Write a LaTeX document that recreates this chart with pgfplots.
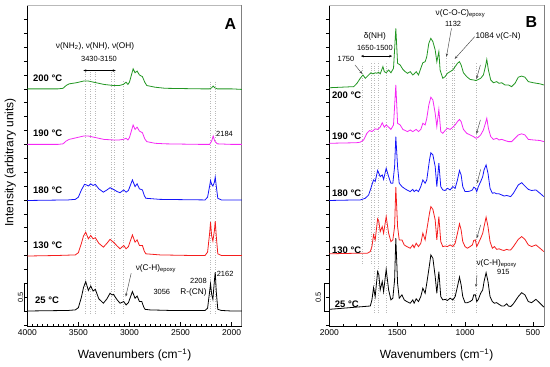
\documentclass[border=0pt]{standalone}
\usepackage{pgfplots}
\pgfplotsset{compat=1.18}
\usepackage{fontspec}
\setmainfont{Liberation Sans}
\usetikzlibrary{arrows.meta}
\definecolor{specgreen}{RGB}{34,150,34}
\definecolor{specmag}{RGB}{245,40,245}
\definecolor{specblue}{RGB}{20,20,250}
\definecolor{specred}{RGB}{245,30,30}
\definecolor{annot}{RGB}{70,70,70}
\tikzset{
  tlab/.style={font=\fontsize{9.5}{10}\selectfont\bfseries, anchor=west, inner sep=0pt},
  ann/.style={font=\fontsize{7.5}{9}\selectfont, inner sep=0pt},
  tann/.style={font=\fontsize{8.3}{9}\selectfont, inner sep=0pt},
  dl/.style={gray!55, dotted, line width=0.45bp},
  arr/.style={-{Stealth[length=3.2bp,width=2.4bp]}, annot, line width=0.45bp},
}
\begin{document}
\begin{tikzpicture}[x=1bp,y=1bp]
\pgfplotsset{
  specaxis/.style={
    scale only axis, width=214.5bp, height=321bp,
    x dir=reverse,
    axis x line*=bottom, axis y line*=left,
    axis line style={-, line width=0.7bp},
    ymin=-0.27, ymax=5.51,
    ytick={-0.25,0,...,5.25}, yticklabels={},
    tick align=inside, major tick length=3.5bp, minor tick length=2bp,
    tick style={black, line width=0.5bp},
    ytick style={xshift=-3.5bp},
    xticklabel style={font=\fontsize{8.5}{10}\selectfont},
    /pgf/number format/assume math mode=true,
    /pgf/number format/1000 sep={},
    xlabel={Wavenumbers (cm\textsuperscript{−1})},
    every axis x label/.style={at={(axis description cs:0.5,0)}, anchor=center, yshift=-29bp, font=\fontsize{12}{14}\selectfont},
    clip=false,
    every axis plot/.append style={line width=0.8bp, mark=none},
  },
}
% ================= Panel A =================
\begin{axis}[specaxis, at={(27.3bp,41bp)}, anchor=south west,
  xmin=1900, xmax=4000, xtick={2000,2500,3000,3500,4000}, minor x tick num=9,
  ylabel={Intensity (arbitrary units)},
  every axis y label/.style={at={(axis description cs:-0.079,0.51)}, anchor=center, rotate=90, font=\fontsize{12}{14}\selectfont}]
\draw[gray!55, line width=0.5bp] (axis description cs:0,1) -- (axis description cs:1,1);
\draw[gray, line width=0.6bp] (axis description cs:1,1) -- (axis description cs:1,0);
% dotted guide lines
\draw[dl] (axis cs:3428,-0.05) -- (axis cs:3428,4.32);
\draw[dl] (axis cs:3386,-0.05) -- (axis cs:3386,4.32);
\draw[dl] (axis cs:3337,-0.05) -- (axis cs:3337,4.32);
\draw[dl] (axis cs:3180,-0.05) -- (axis cs:3180,4.32);
\draw[dl] (axis cs:3152,-0.05) -- (axis cs:3152,4.32);
\draw[dl] (axis cs:3056,-0.05) -- (axis cs:3056,4.16);
\draw[dl] (axis cs:2208,-0.05) -- (axis cs:2208,4.13);
\draw[dl] (axis cs:2162,-0.05) -- (axis cs:2162,4.13);
% 25 C
\addplot[black] coordinates {(4000,0.0) (3800,0.005) (3600,0.01) (3530,0.02) (3500,0.06) (3470,0.25) (3450,0.42) (3428,0.53) (3402,0.37) (3379,0.45) (3356,0.36) (3334,0.39) (3300,0.22) (3255,0.14) (3220,0.22) (3190,0.32) (3170,0.29) (3157,0.30) (3120,0.2) (3092,0.14) (3056,0.17) (3033,0.11) (3010,0.15) (2971,0.35) (2945,0.23) (2925,0.27) (2902,0.17) (2879,0.17) (2860,0.07) (2847,0.03) (2800,0.02) (2600,0.01) (2400,0.01) (2260,0.01) (2235,0.05) (2215,0.35) (2206,0.49) (2195,0.3) (2183,0.21) (2168,0.55) (2160,0.70) (2150,0.35) (2135,0.03) (2100,0.01) (2000,0.0) (1900,0.0)};
% 130 C
\addplot[specred] coordinates {(4000,0.99) (3700,1.0) (3530,1.01) (3500,1.05) (3470,1.22) (3450,1.35) (3428,1.42) (3402,1.30) (3379,1.36) (3356,1.30) (3334,1.32) (3300,1.22) (3255,1.15) (3220,1.22) (3190,1.29) (3157,1.24) (3120,1.17) (3092,1.12) (3056,1.18) (3033,1.12) (3010,1.16) (2971,1.37) (2945,1.24) (2925,1.28) (2902,1.18) (2873,1.18) (2855,1.08) (2840,1.03) (2700,1.01) (2400,1.0) (2260,1.0) (2235,1.06) (2215,1.40) (2206,1.60) (2195,1.35) (2183,1.26) (2168,1.45) (2160,1.62) (2150,1.35) (2135,1.03) (2100,1.0) (1900,1.0)};
% 180 C
\addplot[specblue] coordinates {(4000,1.99) (3600,2.0) (3530,2.01) (3500,2.05) (3470,2.18) (3440,2.28) (3420,2.27) (3402,2.25) (3379,2.29) (3356,2.26) (3334,2.28) (3300,2.2) (3255,2.14) (3220,2.18) (3190,2.22) (3157,2.19) (3120,2.15) (3092,2.13) (3056,2.18) (3033,2.14) (3010,2.17) (2971,2.36) (2945,2.24) (2925,2.29) (2902,2.20) (2873,2.18) (2855,2.08) (2840,2.03) (2700,2.01) (2260,2.0) (2235,2.05) (2215,2.25) (2206,2.35) (2195,2.28) (2183,2.25) (2168,2.32) (2160,2.41) (2150,2.25) (2135,2.03) (2100,2.0) (1900,2.0)};
% 190 C
\addplot[specmag] coordinates {(4000,3.0) (3700,3.0) (3650,3.01) (3620,3.06) (3590,3.09) (3520,3.12) (3450,3.15) (3400,3.15) (3350,3.13) (3250,3.09) (3157,3.08) (3100,3.08) (3060,3.09) (3033,3.11) (3015,3.08) (3000,3.12) (2964,3.35) (2945,3.27) (2925,3.31) (2902,3.24) (2873,3.21) (2850,3.1) (2830,3.05) (2750,3.02) (2650,3.01) (2300,3.0) (2215,3.0) (2195,3.06) (2180,3.15) (2165,3.06) (2140,3.01) (2000,3.0) (1900,3.0)};
% 200 C
\addplot[specgreen] coordinates {(4000,4.0) (3700,4.0) (3650,4.01) (3620,4.06) (3590,4.09) (3520,4.11) (3450,4.14) (3400,4.14) (3350,4.12) (3250,4.08) (3157,4.06) (3100,4.06) (3060,4.08) (3033,4.12) (3015,4.08) (3000,4.12) (2964,4.36) (2945,4.29) (2925,4.32) (2902,4.25) (2873,4.22) (2850,4.12) (2830,4.06) (2750,4.03) (2650,4.01) (2300,4.0) (2215,4.0) (2195,4.02) (2180,4.05) (2165,4.02) (2140,4.0) (2000,4.0) (1900,3.99)};
% labels
\node[tlab] at (axis cs:3944,4.2) {200 °C};
\node[tlab] at (axis cs:3944,3.2) {190 °C};
\node[tlab] at (axis cs:3944,2.18) {180 °C};
\node[tlab] at (axis cs:3944,1.19) {130 °C};
\node[tlab] at (axis cs:3925,0.2) {25 °C};
\node[font=\fontsize{16}{18}\selectfont\bfseries] at (axis cs:2013,5.17) {A};
\node[tann] at (axis cs:3337,4.77) {ν(NH\textsubscript{2}), ν(NH), ν(OH)};
\node[ann] at (axis cs:3298,4.53) {3430-3150};
\draw[{Stealth[length=3bp,width=2.4bp]}-{Stealth[length=3bp,width=2.4bp]}, black, line width=0.45bp] (axis cs:3451,4.33) -- (axis cs:3134,4.33);
\node[ann] at (axis cs:2069,3.19) {2184};
\node[tann] at (axis cs:2740,0.77) {ν(C-H)\textsubscript{epoxy}};
\draw[arr] (axis cs:2983,0.68) -- (axis cs:3036,0.26);
\node[ann] at (axis cs:2683,0.35) {3056};
\node[ann] at (axis cs:2324,0.55) {2208};
\node[tann] at (axis cs:2373,0.33) {R-(CN)};
\node[ann] at (axis cs:2063,0.67) {2162};
% scale bar
\draw[black, line width=0.5bp] (axis cs:4005,0.5) -- (axis cs:4025,0.5) -- (axis cs:4025,0) -- (axis cs:4005,0);
\node[font=\fontsize{7.5}{9}\selectfont, rotate=90, inner sep=0pt] at (axis cs:4065,0.25) {0.5};
\end{axis}
% ================= Panel B =================
\begin{axis}[specaxis, at={(329.3bp,41bp)}, anchor=south west,
  xmin=420, xmax=2000, xtick={500,1000,1500,2000}, minor x tick num=4]
\draw[gray!55, line width=0.5bp] (axis description cs:0,1) -- (axis description cs:1,1);
\draw[gray, line width=0.6bp] (axis description cs:1,1) -- (axis description cs:1,0);
% dotted guide lines
\draw[dl] (axis cs:1757,0.85) -- (axis cs:1757,4.42);
\draw[dl] (axis cs:1688,0.85) -- (axis cs:1688,4.5);
\draw[dl] (axis cs:1669,-0.03) -- (axis cs:1669,4.5);
\draw[dl] (axis cs:1640,-0.03) -- (axis cs:1640,4.5);
\draw[dl] (axis cs:1578,-0.03) -- (axis cs:1578,4.5);
\draw[dl] (axis cs:1137,-0.03) -- (axis cs:1137,4.62);
\draw[dl] (axis cs:1093,-0.03) -- (axis cs:1093,4.5);
\draw[dl] (axis cs:1083,-0.03) -- (axis cs:1083,4.5);
\draw[dl] (axis cs:920,-0.03) -- (axis cs:920,4.48);
% 25 C
\addplot[black] coordinates {(2000,0.03) (1900,0.05) (1800,0.07) (1698,0.09) (1686,0.2) (1674,0.42) (1662,0.26) (1644,0.71) (1635,0.65) (1625,0.38) (1610,0.53) (1600,0.35) (1581,0.75) (1563,0.38) (1546,0.2) (1532,0.23) (1519,0.56) (1510,1.31) (1497,0.5) (1485,0.23) (1465,0.29) (1448,0.2) (1429,0.17) (1404,0.14) (1385,0.2) (1375,0.14) (1360,0.22) (1343,0.17) (1326,0.26) (1311,0.41) (1294,0.32) (1282,0.5) (1262,0.83) (1252,1.01) (1237,0.95) (1220,0.62) (1208,0.32) (1193,0.71) (1179,0.26) (1164,0.2) (1147,0.21) (1130,0.19) (1110,0.23) (1090,0.2) (1073,0.26) (1056,0.44) (1041,0.61) (1029,0.47) (1017,0.26) (1000,0.15) (983,0.15) (963,0.17) (946,0.2) (936,0.29) (924,0.29) (914,0.17) (902,0.21) (885,0.32) (870,0.38) (860,0.53) (845,0.69) (831,0.53) (816,0.26) (799,0.17) (784,0.14) (767,0.15) (750,0.12) (730,0.09) (713,0.09) (693,0.13) (681,0.09) (664,0.08) (644,0.13) (608,0.26) (583,0.33) (559,0.29) (534,0.17) (510,0.15) (478,0.21) (448,0.14) (420,0.07)};
% 130 C
\addplot[specred] coordinates {(2000,1.03) (1800,1.04) (1720,1.04) (1698,1.07) (1686,1.16) (1674,1.37) (1662,1.28) (1644,1.66) (1635,1.61) (1625,1.43) (1610,1.52) (1600,1.40) (1581,1.70) (1563,1.40) (1546,1.25) (1532,1.28) (1519,1.52) (1510,2.23) (1497,1.52) (1485,1.28) (1465,1.28) (1448,1.19) (1429,1.16) (1404,1.13) (1385,1.19) (1375,1.14) (1360,1.22) (1343,1.16) (1326,1.22) (1311,1.40) (1294,1.28) (1282,1.46) (1262,1.76) (1252,1.88) (1237,1.83) (1220,1.64) (1208,1.28) (1193,1.70) (1179,1.25) (1164,1.16) (1147,1.17) (1130,1.16) (1110,1.19) (1090,1.16) (1073,1.22) (1056,1.40) (1041,1.57) (1029,1.46) (1017,1.25) (1000,1.16) (983,1.13) (963,1.16) (946,1.19) (936,1.27) (924,1.28) (914,1.16) (902,1.22) (885,1.31) (870,1.40) (860,1.52) (845,1.69) (831,1.52) (816,1.25) (799,1.13) (784,1.16) (767,1.11) (750,1.12) (730,1.10) (713,1.09) (693,1.11) (681,1.10) (664,1.10) (644,1.16) (608,1.29) (583,1.34) (559,1.29) (534,1.19) (510,1.16) (478,1.19) (448,1.13) (420,1.07)};
% 180 C
\addplot[specblue] coordinates {(2000,1.99) (1800,2.0) (1772,2.0) (1735,2.03) (1710,2.09) (1698,2.18) (1686,2.27) (1674,2.36) (1662,2.33) (1644,2.53) (1635,2.48) (1625,2.42) (1610,2.45) (1600,2.37) (1581,2.57) (1563,2.42) (1546,2.3) (1532,2.3) (1519,2.60) (1510,3.14) (1497,2.60) (1485,2.3) (1465,2.24) (1448,2.21) (1429,2.18) (1404,2.15) (1385,2.19) (1375,2.15) (1360,2.18) (1343,2.15) (1326,2.24) (1311,2.36) (1294,2.3) (1282,2.36) (1262,2.72) (1252,2.85) (1237,2.81) (1220,2.60) (1208,2.24) (1193,2.66) (1179,2.24) (1164,2.18) (1147,2.17) (1130,2.21) (1110,2.18) (1090,2.24) (1073,2.21) (1056,2.36) (1041,2.53) (1029,2.45) (1017,2.24) (1000,2.15) (983,2.15) (963,2.16) (946,2.18) (936,2.23) (924,2.21) (914,2.15) (902,2.24) (885,2.33) (870,2.42) (860,2.54) (845,2.63) (831,2.48) (816,2.21) (799,2.12) (784,2.13) (767,2.11) (750,2.11) (730,2.09) (713,2.07) (693,2.08) (664,2.06) (644,2.12) (608,2.27) (583,2.31) (559,2.25) (534,2.19) (510,2.17) (478,2.18) (448,2.12) (420,2.06)};
% 190 C
\addplot[specmag] coordinates {(2000,3.02) (1800,3.03) (1772,3.04) (1747,3.08) (1723,3.20) (1703,3.25) (1686,3.23) (1662,3.28) (1644,3.27) (1625,3.31) (1610,3.39) (1595,3.31) (1581,3.35) (1563,3.31) (1546,3.27) (1527,3.35) (1510,4.07) (1497,3.38) (1478,3.35) (1458,3.27) (1441,3.25) (1424,3.23) (1404,3.26) (1385,3.23) (1360,3.27) (1343,3.23) (1326,3.27) (1311,3.38) (1294,3.35) (1282,3.47) (1267,3.71) (1252,3.85) (1237,3.80) (1220,3.56) (1208,3.32) (1193,3.63) (1179,3.23) (1164,3.20) (1147,3.25) (1130,3.29) (1110,3.27) (1090,3.31) (1073,3.35) (1056,3.41) (1041,3.45) (1029,3.41) (1012,3.27) (988,3.20) (963,3.17) (938,3.14) (919,3.11) (902,3.13) (885,3.17) (865,3.26) (850,3.38) (840,3.47) (828,3.29) (811,3.14) (791,3.09) (767,3.11) (750,3.08) (730,3.09) (706,3.07) (681,3.05) (657,3.05) (632,3.11) (608,3.17) (583,3.19) (559,3.17) (534,3.09) (497,3.08) (448,3.07) (420,3.05)};
% 200 C
\addplot[specgreen] coordinates {(2000,4.02) (1820,4.04) (1796,4.10) (1772,4.19) (1752,4.25) (1735,4.19) (1710,4.25) (1693,4.29) (1679,4.27) (1662,4.29) (1649,4.28) (1637,4.30) (1625,4.27) (1605,4.40) (1595,4.31) (1581,4.29) (1563,4.34) (1546,4.29) (1527,4.37) (1510,5.09) (1497,4.46) (1478,4.43) (1458,4.35) (1441,4.31) (1424,4.28) (1404,4.31) (1385,4.25) (1375,4.27) (1360,4.31) (1343,4.25) (1326,4.37) (1311,4.47) (1294,4.49) (1282,4.58) (1267,4.82) (1252,4.91) (1237,4.85) (1220,4.70) (1208,4.49) (1193,4.67) (1184,4.34) (1164,4.19) (1147,4.22) (1130,4.28) (1110,4.31) (1090,4.34) (1073,4.40) (1056,4.46) (1041,4.49) (1029,4.43) (1012,4.29) (988,4.22) (963,4.17) (938,4.16) (919,4.15) (902,4.17) (885,4.19) (865,4.25) (850,4.40) (840,4.53) (828,4.34) (811,4.16) (791,4.11) (767,4.13) (750,4.10) (730,4.11) (706,4.07) (681,4.07) (657,4.04) (632,4.10) (608,4.21) (583,4.23) (559,4.21) (534,4.13) (497,4.11) (448,4.09) (420,4.07)};
% labels
\node[tlab] at (axis cs:1980,3.89) {200 °C};
\node[tlab] at (axis cs:1980,3.14) {190 °C};
\node[tlab] at (axis cs:1980,2.12) {180 °C};
\node[tlab] at (axis cs:1980,1.10) {130 °C};
\node[tlab] at (axis cs:1960,0.13) {25 °C};
\node[font=\fontsize{16}{18}\selectfont\bfseries] at (axis cs:512,5.21) {B};
\node[tann] at (axis cs:1034,5.36) {ν(C-O-C)\textsubscript{epoxy}};
\node[ann] at (axis cs:1088,5.17) {1132};
\node[tann] at (axis cs:757,4.95) {1084 ν(C-N)};
\draw[arr] (axis cs:1100,5.09) -- (axis cs:1137,4.58);
\draw[arr] (axis cs:929,4.94) -- (axis cs:1076,4.54);
\node[tann] at (axis cs:1664,4.95) {δ(NH)};
\node[ann] at (axis cs:1664,4.74) {1650-1500};
\draw[{Stealth[length=3bp,width=2.4bp]}-{Stealth[length=3bp,width=2.4bp]}, black, line width=0.45bp] (axis cs:1767,4.59) -- (axis cs:1537,4.59);
\node[ann] at (axis cs:1877,4.54) {1750};
\draw[arr] (axis cs:1811,4.43) -- (axis cs:1757,4.27);
\draw[arr] (axis cs:887,4.43) -- (axis cs:916,4.18);
\draw[arr] (axis cs:887,3.44) -- (axis cs:916,3.19);
\draw[arr] (axis cs:885,2.55) -- (axis cs:912,2.30);
\draw[arr] (axis cs:885,1.55) -- (axis cs:914,1.31);
\draw[arr] (axis cs:912,0.65) -- (axis cs:920,0.43);
\node[tann] at (axis cs:767,0.86) {ν(C-H)\textsubscript{epoxy}};
\node[ann] at (axis cs:718,0.71) {915};
% scale bar
\draw[black, line width=0.5bp] (axis cs:2022,0.5) -- (axis cs:2037,0.5) -- (axis cs:2037,0) -- (axis cs:2022,0);
\node[font=\fontsize{7.5}{9}\selectfont, rotate=90, inner sep=0pt] at (axis cs:2081,0.25) {0.5};
\end{axis}
\pgfresetboundingbox
\path[use as bounding box] (0,0) rectangle (550bp,367bp);
\end{tikzpicture}
\end{document}
